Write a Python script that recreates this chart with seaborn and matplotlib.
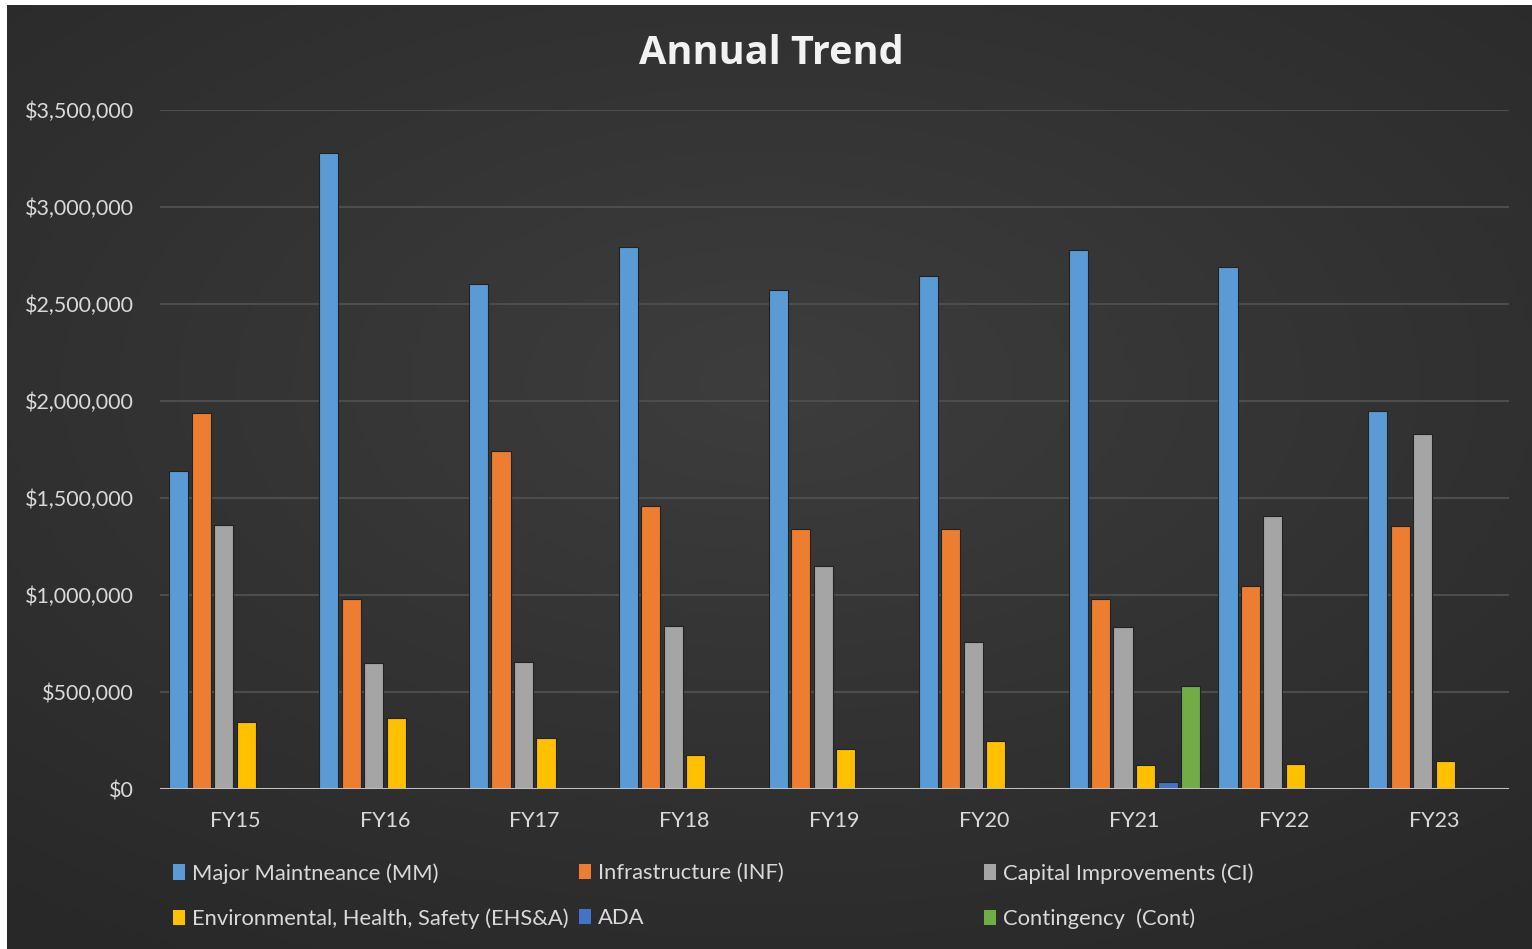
import numpy as np
import pandas as pd
import matplotlib
matplotlib.use('Agg')
import matplotlib.pyplot as plt
import seaborn as sns
from matplotlib.patches import Patch
from matplotlib.ticker import FuncFormatter

# fiscal years and series
years = ['FY15', 'FY16', 'FY17', 'FY18', 'FY19', 'FY20', 'FY21', 'FY22', 'FY23']
series = ['Major Maintneance (MM)', 'Infrastructure (INF)', 'Capital Improvements (CI)',
          'Environmental, Health, Safety (EHS&A)', 'ADA', 'Contingency  (Cont)']

mm = [1637000, 3278000, 2603000, 2794000, 2572000, 2644000, 2778000, 2691000, 1948000]
inf = [1937000, 978000, 1742000, 1459000, 1340000, 1340000, 979000, 1046000, 1358000]
ci = [1361000, 648000, 655000, 840000, 1149000, 758000, 833000, 1407000, 1832000]
ehs = [344000, 364000, 263000, 175000, 206000, 247000, 122000, 129000, 142000]
ada = [0, 0, 0, 0, 0, 0, 36000, 0, 0]
cont = [0, 0, 0, 0, 0, 0, 530000, 0, 0]

colors = ['#5B9BD5', '#ED7D31', '#A5A5A5', '#FFC000', '#4472C4', '#70AD47']

df = pd.DataFrame({'year': years * 6,
                   'series': np.repeat(series, len(years)),
                   'value': mm + inf + ci + ehs + ada + cont})

sns.set_theme(style='dark')
plt.rcParams['font.family'] = ['Lato', 'DejaVu Sans']
txt = '#D9D9D9'

W, H = 1532, 949
fig = plt.figure(figsize=(W / 100, H / 100), dpi=100)
fig.patch.set_facecolor('white')

# dark background with a soft radial glow
bg = fig.add_axes([7 / W, 0, 1 - 7 / W, 1 - 5 / H], zorder=-10)
gx, gy = np.meshgrid(np.linspace(-1, 1, 400), np.linspace(-1, 1, 250))
r = np.sqrt((gx * 0.9) ** 2 + ((gy + 0.2) * 1.0) ** 2)
shade = 0.24 - 0.08 * np.clip(r, 0, 1.4) / 1.4
bg.imshow(np.dstack([shade] * 3), aspect='auto', extent=[0, 1, 0, 1], interpolation='bilinear')
bg.set_axis_off()

ax = fig.add_axes([160 / W, 1 - 789 / H, (1509 - 160) / W, (789 - 110) / H])
ax.set_facecolor('none')

sns.barplot(data=df, x='year', y='value', hue='series', hue_order=series, order=years,
            palette=colors, width=0.9, gap=0.15, saturation=1, legend=False,
            edgecolor='#222222', linewidth=0.8, ax=ax, zorder=3)

ax.set_ylim(0, 3500000)
ax.set_xlim(-0.5, len(years) - 0.5)
ax.set_yticks(np.arange(0, 3500001, 500000))
ax.yaxis.set_major_formatter(FuncFormatter(lambda v, p: f'${v:,.0f}'))
ax.grid(axis='y', color='#4D4D4D', linewidth=1.5, zorder=0)
ax.grid(axis='x', visible=False)
ax.axhline(0, color='#BFBFBF', linewidth=2.2, zorder=4)
for s in ax.spines.values():
    s.set_visible(False)
ax.tick_params(axis='y', colors=txt, labelsize=15.5, length=0, pad=19)
ax.tick_params(axis='x', colors=txt, labelsize=15.5, length=0, pad=16)
ax.set_xlabel('')
ax.set_ylabel('')

fig.text(771 / W, 1 - 53 / H, 'Annual Trend', ha='center', va='center',
         fontsize=28.5, fontweight='bold', color='#F2F2F2', family='Open Sans')

# legend laid out in three equal-width columns like the original
col_x = [173, 579, 984]
for c in range(3):
    idx = [c, c + 3]
    handles = [Patch(facecolor=colors[i], edgecolor='none') for i in idx]
    fig.legend(handles, [series[i] for i in idx], loc='upper left',
               bbox_to_anchor=(col_x[c] / W, 1 - 863 / H), frameon=False,
               fontsize=15.8, labelcolor=txt, handlelength=0.55, handleheight=0.7,
               handletextpad=0.3, labelspacing=1.15, borderaxespad=0, borderpad=0)

fig.savefig('out.png', dpi=100, facecolor=fig.get_facecolor())
